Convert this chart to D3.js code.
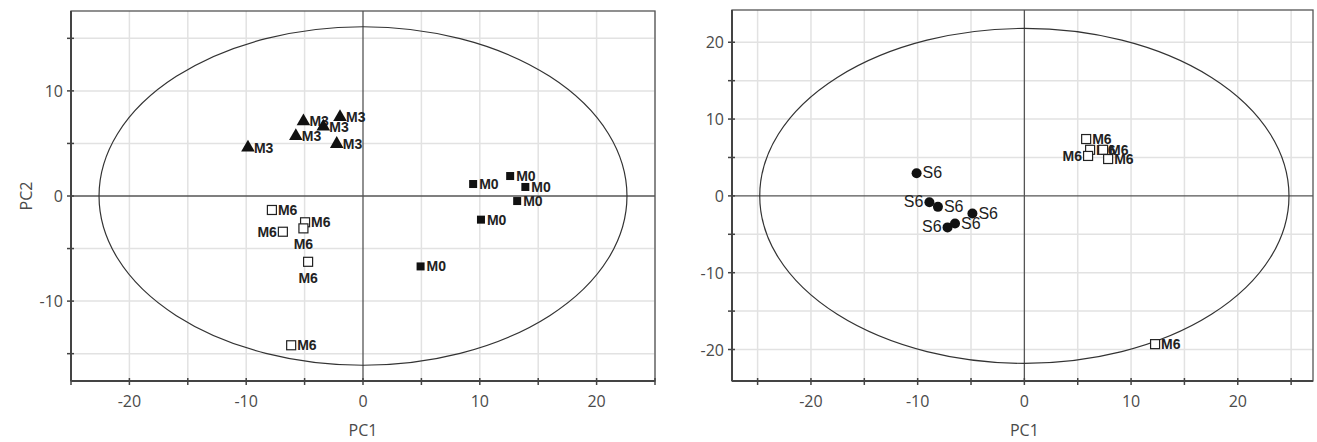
<!DOCTYPE html>
<html><head><meta charset="utf-8">
<script src="https://cdn.jsdelivr.net/npm/d3@7/dist/d3.min.js"></script>
<style>body{margin:0;background:#fff}svg{display:block}</style>
</head><body>
<svg id="c" width="1317" height="442"></svg>
<script>
// ---------- DATA ----------
// Left panel
const leftM3 = [[-9.85,4.6],[-5.1,7.1],[-5.75,5.7],[-3.4,6.6],[-1.97,7.5],[-2.25,4.95]];
const leftM3Pos = ["r","r","r","r","r","r"];
const leftM0 = [[9.43,1.14],[12.6,1.9],[13.9,0.86],[13.2,-0.48],[10.1,-2.25],[4.93,-6.7]];
const leftM0Pos = ["r","r","r","r","r","r"];
const leftM6 = [[-7.8,-1.33],[-4.96,-2.5],[-5.1,-3.08],[-6.86,-3.4],[-4.7,-6.26],[-6.15,-14.2]];
const leftM6Pos = ["r","r","b","l","b","r"];
// Right panel
const rightS6 = [[-10.1,2.95],[-8.9,-0.82],[-8.1,-1.43],[-4.87,-2.3],[-7.2,-4.1],[-6.5,-3.6]];
const rightS6Pos = ["r","l","r","r","l","r"];
const rightM6 = [[5.79,7.4],[6.16,6.0],[5.97,5.2],[7.38,6.0],[7.85,4.8],[12.25,-19.3]];
const rightM6Pos = ["r","r","l","r","r","r"];
// Axes / ellipses
const leftXDomain = [-25,25], leftYDomain = [-17.6,17.6];
const rightXDomain = [-27.4,27.05], rightYDomain = [-24.1,24.2];
const leftXTicks = [-20,-10,0,10,20], leftYTicks = [-10,0,10];
const rightXTicks = [-20,-10,0,10,20], rightYTicks = [-20,-10,0,10,20];
const leftEllipse = [22.6,16.1], rightEllipse = [24.8,21.8];
const axisTitleX = "PC1", axisTitleY = "PC2";

// ---------- DRAW ----------
const svg = d3.select("#c");
const tickFont = "'Open Sans', 'Liberation Sans', sans-serif";

function panel(cfg){
  const x = d3.scaleLinear().domain(cfg.xd).range([cfg.x0,cfg.x1]);
  const y = d3.scaleLinear().domain(cfg.yd).range([cfg.y1,cfg.y0]);
  const g = svg.append("g");
  const xg = d3.range(Math.ceil(cfg.xd[0]/5)*5, cfg.xd[1]+0.001, 5);
  const yg = d3.range(Math.ceil(cfg.yd[0]/5)*5, cfg.yd[1]+0.001, 5);
  g.selectAll(".gx").data(xg.filter(v=>v!==0)).join("line")
    .attr("x1",d=>x(d)).attr("x2",d=>x(d)).attr("y1",cfg.y0).attr("y2",cfg.y1)
    .attr("stroke","#e2e2e2").attr("stroke-width",1.5);
  g.selectAll(".gy").data(yg.filter(v=>v!==0)).join("line")
    .attr("y1",d=>y(d)).attr("y2",d=>y(d)).attr("x1",cfg.x0).attr("x2",cfg.x1)
    .attr("stroke","#e2e2e2").attr("stroke-width",1.5);
  g.append("line").attr("x1",x(0)).attr("x2",x(0)).attr("y1",cfg.y0).attr("y2",cfg.y1).attr("stroke","#555").attr("stroke-width",1.3);
  g.append("line").attr("y1",y(0)).attr("y2",y(0)).attr("x1",cfg.x0).attr("x2",cfg.x1).attr("stroke","#555").attr("stroke-width",1.3);
  g.append("rect").attr("x",cfg.x0).attr("y",cfg.y0).attr("width",cfg.x1-cfg.x0).attr("height",cfg.y1-cfg.y0)
    .attr("fill","none").attr("stroke","#555").attr("stroke-width",1.3);
  g.append("line").attr("x1",cfg.x0).attr("x2",cfg.x1).attr("y1",cfg.y1).attr("y2",cfg.y1).attr("stroke","#444").attr("stroke-width",2);
  g.append("line").attr("x1",cfg.x0).attr("x2",cfg.x0).attr("y1",cfg.y0).attr("y2",cfg.y1).attr("stroke","#444").attr("stroke-width",2);
  g.selectAll(".tx").data(xg).join("line")
    .attr("x1",d=>x(d)).attr("x2",d=>x(d)).attr("y1",cfg.y1-3).attr("y2",cfg.y1+4)
    .attr("stroke","#444").attr("stroke-width",1.5);
  g.selectAll(".ty").data(yg).join("line")
    .attr("y1",d=>y(d)).attr("y2",d=>y(d)).attr("x1",cfg.x0-4).attr("x2",cfg.x0+3)
    .attr("stroke","#444").attr("stroke-width",1.5);
  g.selectAll(".lx").data(cfg.xt).join("text")
    .attr("x",d=>x(d)).attr("y",cfg.y1+26).attr("text-anchor","middle")
    .attr("font-family",tickFont).attr("font-size",16).attr("fill","#4a4a4a").text(d=>d);
  g.selectAll(".ly").data(cfg.yt).join("text")
    .attr("x",cfg.x0-8).attr("y",d=>y(d)+6).attr("text-anchor","end")
    .attr("font-family",tickFont).attr("font-size",16).attr("fill","#4a4a4a").text(d=>d);
  g.append("text").attr("x",x(0)).attr("y",436).attr("text-anchor","middle")
    .attr("font-family",tickFont).attr("font-size",16).attr("fill","#4a4a4a").text(axisTitleX);
  if(cfg.ytitle){
    g.append("text").attr("transform",`translate(${cfg.x0-39},${y(0)}) rotate(-90)`).attr("text-anchor","middle")
      .attr("font-family",tickFont).attr("font-size",16).attr("fill","#4a4a4a").text(axisTitleY);
  }
  const ex = x(cfg.ell[0]) - x(0), ey = y(0) - y(cfg.ell[1]);
  g.append("ellipse").attr("cx",x(0)).attr("cy",y(0)).attr("rx",ex).attr("ry",ey)
    .attr("fill","none").attr("stroke","#333").attr("stroke-width",1.2);
  return {g,x,y};
}

function points(p, data, pos, type, label, font){
  const {g,x,y} = p;
  const sel = g.append("g");
  data.forEach((d,i)=>{
    const cx = x(d[0]), cy = y(d[1]);
    if(type==="tri"){
      sel.append("path").attr("d",d3.symbol(d3.symbolTriangle,80)()).attr("transform",`translate(${cx},${cy})`).attr("fill","#111");
    } else if(type==="fsq"){
      sel.append("rect").attr("x",cx-4).attr("y",cy-4).attr("width",8).attr("height",8).attr("fill","#111");
    } else if(type==="osq"){
      sel.append("rect").attr("x",cx-4.5).attr("y",cy-4.5).attr("width",9).attr("height",9).attr("fill","#fff").attr("stroke","#222").attr("stroke-width",1.2);
    } else if(type==="dot"){
      sel.append("circle").attr("cx",cx).attr("cy",cy).attr("r",5).attr("fill","#111");
    }
    const t = sel.append("text").attr("font-family",font.family).attr("font-weight",font.weight)
      .attr("font-size",font.size).attr("fill","#222").text(label);
    if(pos[i]==="r") t.attr("x",cx+6).attr("y",cy+5);
    else if(pos[i]==="l") t.attr("x",cx-6).attr("y",cy+5).attr("text-anchor","end");
    else if(pos[i]==="b") t.attr("x",cx).attr("y",cy+21).attr("text-anchor","middle");
  });
}

const L = panel({x0:71,x1:655,y0:11,y1:381,xd:leftXDomain,yd:leftYDomain,xt:leftXTicks,yt:leftYTicks,ell:leftEllipse,ytitle:true});
const R = panel({x0:732,x1:1313,y0:10,y1:381,xd:rightXDomain,yd:rightYDomain,xt:rightXTicks,yt:rightYTicks,ell:rightEllipse,ytitle:false});

const boldF = {family:"'Liberation Sans', Arial, sans-serif", weight:"bold", size:14};
const regF = {family:"'Liberation Sans', Arial, sans-serif", weight:"normal", size:16};
points(L, leftM3, leftM3Pos, "tri", "M3", boldF);
points(L, leftM0, leftM0Pos, "fsq", "M0", boldF);
points(L, leftM6, leftM6Pos, "osq", "M6", boldF);
points(R, rightS6, rightS6Pos, "dot", "S6", regF);
points(R, rightM6, rightM6Pos, "osq", "M6", boldF);
</script>
</body></html>
